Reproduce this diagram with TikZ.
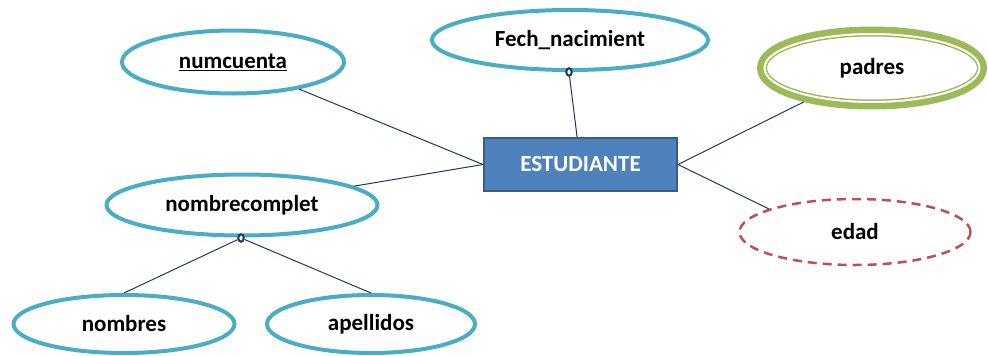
\documentclass[tikz,border=0pt]{standalone}
\usepackage{fontspec}
\setmainfont{Carlito}
\usetikzlibrary{shapes.geometric,positioning}
\definecolor{atrib}{HTML}{4BACC6}
\definecolor{verde}{HTML}{9BBB59}
\definecolor{rojo}{HTML}{C0504D}
\definecolor{entfill}{HTML}{4F81BD}
\definecolor{entdraw}{HTML}{385D8A}
\definecolor{linea}{HTML}{1F3864}
\begin{document}
\begin{tikzpicture}[x=1pt,y=-1pt]
\tikzstyle{texto}=[font=\fontsize{23}{28}\selectfont\bfseries, inner sep=0pt];
\tikzstyle{atributo}=[texto, ellipse, draw=atrib, line width=4pt, fill=white];
\tikzstyle{multivalor}=[texto, ellipse, fill=white, draw=verde, double=white, line width=1.5pt, double distance=2pt, preaction={draw=verde, line width=15pt}, outer sep=8pt];
\tikzstyle{derivado}=[texto, ellipse, draw=rojo, dash pattern=on 9pt off 6pt, line width=2.5pt, fill=white];
\tikzstyle{entidad}=[texto, rectangle, fill=entfill, draw=entdraw, line width=2pt, text=white];
\tikzstyle{conexion}=[draw=linea, line width=1pt];
\tikzstyle{compuesto}=[ellipse, draw=linea, fill=white, line width=2pt, minimum width=5.5pt, minimum height=7.5pt, inner sep=0pt];
\useasboundingbox (0,0) rectangle (988,356);

\node[entidad, minimum width=193pt, minimum height=53pt] (estudiante) at (580.5,164.5) {ESTUDIANTE};

\node[atributo, minimum width=222pt, minimum height=63pt] (numcuenta) at (233,62) {\underline{numcuenta}};
\node[atributo, minimum width=276pt, minimum height=60pt] (fech) at (570,40) {Fech\_nacimient};
\node[atributo, minimum width=271pt, minimum height=61pt] (nombrecomplet) at (242,205) {nombrecomplet};
\node[atributo, minimum width=221pt, minimum height=58pt] (nombres) at (124,324) {nombres};
\node[atributo, minimum width=208pt, minimum height=58pt] (apellidos) at (371,324) {apellidos};

\node[multivalor, minimum width=215pt, minimum height=68pt] (padres) at (872,68) {padres};
\node[derivado, minimum width=231pt, minimum height=66pt] (edad) at (855,232) {edad};

\node[compuesto] (fechc) at (569,72) {};
\node[compuesto] (nombrec) at (241,238) {};

\draw[conexion] (numcuenta) edge (estudiante.west);
\draw[conexion] (nombrecomplet) edge (estudiante.west);
\draw[conexion] (fechc) edge (estudiante);
\draw[conexion] (estudiante.east) edge (padres);
\draw[conexion] (estudiante.east) edge (edad.165);

\draw[conexion] (nombrec) edge (nombres.north);
\draw[conexion] (nombrec) edge (apellidos.north);
\end{tikzpicture}
\end{document}
